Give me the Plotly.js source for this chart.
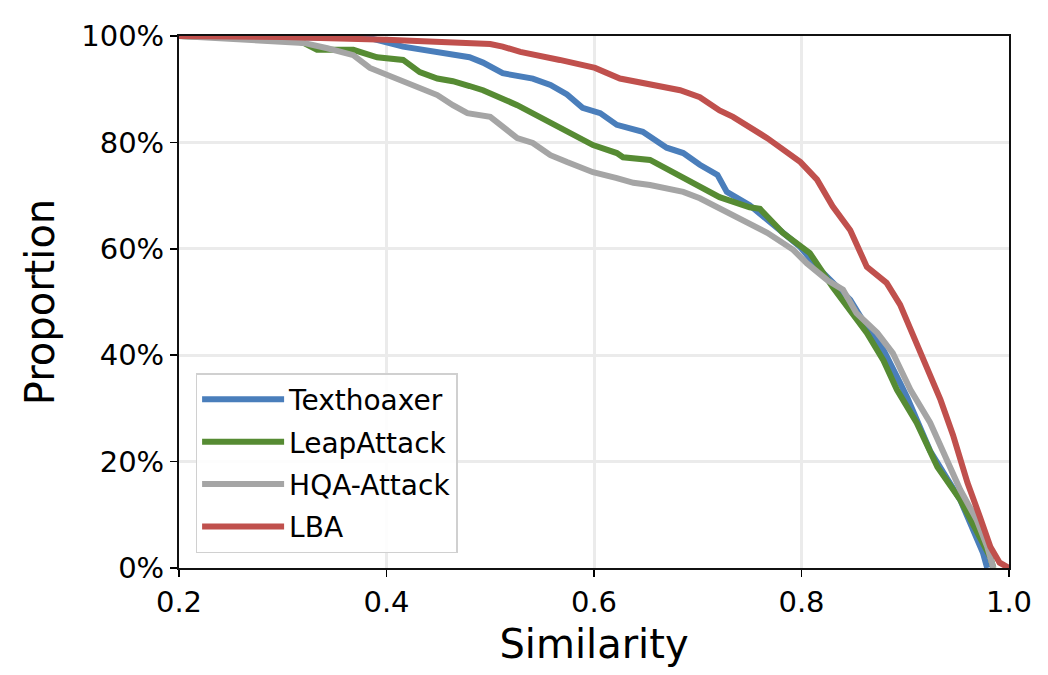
<!DOCTYPE html>
<html>
<head>
<meta charset="utf-8">
<script src="https://cdn.plot.ly/plotly-3.0.1.min.js"></script>
<style>
  html, body { margin: 0; padding: 0; background: #fff; }
  #chart { width: 1048px; height: 675px; }
</style>
</head>
<body>
<div id="chart"></div>
<script>
// Proportion of adversarial examples whose similarity is at least x (in %)
const texthoaxerX = [0.2, 0.3, 0.384, 0.416, 0.449, 0.480, 0.493, 0.512, 0.541, 0.558, 0.574, 0.589, 0.606, 0.622, 0.647, 0.670, 0.686, 0.702, 0.719, 0.728, 0.750, 0.767, 0.799, 0.815, 0.830, 0.847, 0.863, 0.879, 0.895, 0.902, 0.924, 0.953, 0.975, 0.979];
const texthoaxerY = [100, 99.8, 99.6, 98, 97, 96, 95, 93, 92, 90.8, 89, 86.5, 85.5, 83.3, 82, 79, 78, 75.8, 73.9, 70.7, 68.2, 65.4, 60.3, 56.6, 53.6, 50.4, 45.3, 41, 34.8, 32, 22, 12.8, 2.8, 0];

const leapAttackX = [0.2, 0.3, 0.320, 0.333, 0.368, 0.391, 0.416, 0.432, 0.449, 0.464, 0.480, 0.493, 0.526, 0.558, 0.574, 0.589, 0.599, 0.622, 0.628, 0.654, 0.686, 0.702, 0.721, 0.750, 0.760, 0.782, 0.808, 0.830, 0.847, 0.863, 0.879, 0.892, 0.911, 0.931, 0.953, 0.982, 0.985];
const leapAttackY = [100, 99.5, 98.7, 97.4, 97.4, 96, 95.5, 93.2, 92, 91.5, 90.6, 89.8, 87, 83.8, 82, 80.4, 79.5, 78, 77.2, 76.7, 73.3, 71.4, 69.7, 67.8, 67.5, 63, 59.2, 52.8, 48.5, 44.2, 39, 33.5, 27.3, 19, 12.8, 2, 0];

const hqaAttackX = [0.2, 0.288, 0.320, 0.343, 0.368, 0.384, 0.400, 0.416, 0.432, 0.449, 0.464, 0.478, 0.500, 0.526, 0.541, 0.558, 0.574, 0.599, 0.622, 0.638, 0.654, 0.686, 0.702, 0.719, 0.734, 0.750, 0.767, 0.792, 0.805, 0.825, 0.840, 0.853, 0.873, 0.888, 0.905, 0.924, 0.936, 0.953, 0.969, 0.979, 0.985];
const hqaAttackY = [100, 99.2, 98.7, 97.7, 96.4, 94, 92.7, 91.7, 90.4, 88.9, 87, 85.5, 84.8, 80.8, 79.9, 77.6, 76.3, 74.4, 73.3, 72.4, 72, 70.7, 69.5, 67.8, 66.4, 65, 63, 59.8, 57.3, 54.1, 52.3, 47.9, 44.2, 40.4, 33.5, 27.3, 22.2, 14.7, 9, 4, 0];

const lbaX = [0.2, 0.3, 0.4, 0.461, 0.500, 0.512, 0.529, 0.567, 0.601, 0.625, 0.654, 0.683, 0.702, 0.721, 0.734, 0.750, 0.767, 0.799, 0.815, 0.830, 0.847, 0.863, 0.882, 0.895, 0.907, 0.927, 0.934, 0.946, 0.960, 0.972, 0.982, 0.991, 1.0];
const lbaY = [100, 99.8, 99.3, 98.9, 98.5, 98, 97, 95.5, 94, 92, 91, 89.8, 88.5, 86, 84.8, 83, 80.8, 76.3, 73, 68, 63.5, 56.6, 53.6, 49.5, 44, 35, 31.6, 25, 16, 9.6, 4, 1, 0];

const seriesNames = ['Texthoaxer', 'LeapAttack', 'HQA-Attack', 'LBA'];
const seriesColors = ['#4A7EBB', '#568B33', '#A5A5A5', '#C0504D'];
const xTicks = [0.2, 0.4, 0.6, 0.8, 1.0];
const yTicks = [0, 20, 40, 60, 80, 100];

const xs = [texthoaxerX, leapAttackX, hqaAttackX, lbaX];
const ys = [texthoaxerY, leapAttackY, hqaAttackY, lbaY];

const traces = seriesNames.map((name, i) => ({
  type: 'scatter',
  mode: 'lines',
  name: name,
  legendgroup: name,
  x: xs[i],
  y: ys[i],
  line: { color: seriesColors[i], width: 6 }
}));

const font = 'DejaVu Sans, sans-serif';

const layout = {
  width: 1048,
  height: 675,
  margin: { l: 179, r: 39, t: 36, b: 107 },
  paper_bgcolor: '#ffffff',
  plot_bgcolor: '#ffffff',
  font: { family: font, color: '#000000' },
  showlegend: true,
  legend: {
    x: 0.02, y: 0.028,
    xanchor: 'left', yanchor: 'bottom',
    bgcolor: 'rgba(255,255,255,0.9)',
    bordercolor: '#d0d0d0',
    borderwidth: 1.5,
    font: { family: font, size: 28, color: '#000' },
    tracegroupgap: 3,
    itemwidth: 82
  },
  xaxis: {
    range: [0.2, 1.0],
    tickvals: xTicks,
    ticktext: xTicks.map(v => v.toFixed(1)),
    tickfont: { family: font, size: 29 },
    ticks: 'outside', ticklen: 7, tickwidth: 1.5, tickcolor: '#000',
    showline: true, linecolor: '#111', linewidth: 2, mirror: true,
    showgrid: true, gridcolor: '#ebebeb', gridwidth: 3,
    zeroline: false,
    title: { text: 'Similarity', font: { family: font, size: 40 }, standoff: 12 }
  },
  yaxis: {
    range: [0, 100],
    tickvals: yTicks,
    ticktext: yTicks.map(v => v + '%'),
    tickfont: { family: font, size: 29 },
    ticks: 'outside', ticklen: 7, tickwidth: 1.5, tickcolor: '#000',
    showline: true, linecolor: '#111', linewidth: 2, mirror: true,
    showgrid: true, gridcolor: '#ebebeb', gridwidth: 3,
    zeroline: false,
    title: { text: 'Proportion', font: { family: font, size: 40 }, standoff: 14 }
  }
};

Plotly.newPlot('chart', traces, layout, { displayModeBar: false, staticPlot: true });
</script>
</body>
</html>
